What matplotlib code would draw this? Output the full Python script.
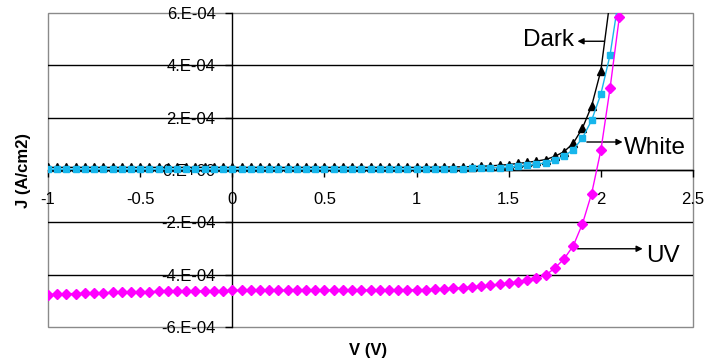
import numpy as np
import matplotlib
matplotlib.use("Agg")
import matplotlib.pyplot as plt

plt.rcParams['font.family'] = ['Liberation Sans', 'DejaVu Sans']

# Current densities are listed in units of 1e-4 A/cm2
SCALE = 1e-4

# Voltage sweep: -1.00 V to 2.15 V in 0.05 V steps
voltage = np.round(np.arange(64) * 0.05 - 1.0, 2)

j_dark = [
    0.10, 0.10, 0.10, 0.10, 0.10, 0.10, 0.10, 0.10, 0.10, 0.10,
    0.10, 0.10, 0.10, 0.10, 0.10, 0.10, 0.10, 0.10, 0.10, 0.10,
    0.10, 0.10, 0.10, 0.10, 0.10, 0.10, 0.10, 0.10, 0.10, 0.10,
    0.10, 0.10, 0.10, 0.10, 0.10, 0.10, 0.10, 0.10, 0.10, 0.10,
    0.10, 0.10, 0.11, 0.11, 0.12, 0.12, 0.13, 0.14, 0.16, 0.18,
    0.21, 0.25, 0.29, 0.34, 0.40, 0.52, 0.70, 1.02, 1.60, 2.45,
    3.80, 6.50,
]

j_white = [
    0.03, 0.03, 0.03, 0.03, 0.03, 0.03, 0.03, 0.03, 0.03, 0.03,
    0.03, 0.03, 0.03, 0.03, 0.03, 0.03, 0.03, 0.03, 0.03, 0.03,
    0.03, 0.03, 0.03, 0.03, 0.03, 0.03, 0.03, 0.03, 0.03, 0.03,
    0.03, 0.03, 0.03, 0.03, 0.03, 0.03, 0.03, 0.03, 0.03, 0.03,
    0.03, 0.03, 0.04, 0.04, 0.05, 0.05, 0.06, 0.07, 0.08, 0.09,
    0.11, 0.14, 0.18, 0.22, 0.28, 0.38, 0.52, 0.78, 1.22, 1.90,
    2.90, 4.40, 6.70,
]

j_uv = [
    -4.76, -4.75, -4.73, -4.72, -4.71, -4.70, -4.69, -4.68, -4.67, -4.66,
    -4.65, -4.65, -4.64, -4.64, -4.63, -4.63, -4.62, -4.62, -4.61, -4.61,
    -4.60, -4.60, -4.60, -4.60, -4.60, -4.60, -4.60, -4.60, -4.60, -4.60,
    -4.60, -4.59, -4.59, -4.59, -4.59, -4.59, -4.59, -4.58, -4.58, -4.58,
    -4.58, -4.57, -4.56, -4.54, -4.52, -4.50, -4.47, -4.44, -4.41, -4.37,
    -4.33, -4.27, -4.20, -4.12, -4.02, -3.75, -3.40, -2.90, -2.06, -0.90,
    0.75, 3.13, 5.83, 7.00,
]

y_ticks = [-6e-4, -4e-4, -2e-4, 0.0, 2e-4, 4e-4, 6e-4]
y_tick_labels = ["-6.E-04", "-4.E-04", "-2.E-04", "0.E+00", "2.E-04", "4.E-04", "6.E-04"]
x_ticks = [-1, -0.5, 0, 0.5, 1, 1.5, 2, 2.5]
x_tick_labels = ["-1", "-0.5", "0", "0.5", "1", "1.5", "2", "2.5"]

CYAN = '#17B6EC'
MAGENTA = '#FF00FF'

fig = plt.figure(figsize=(7.07, 3.64), dpi=100)
ax = fig.add_axes([48 / 707, 1 - 327 / 364, 645 / 707, 314 / 364])

ax.set_xlim(-1, 2.5)
ax.set_ylim(-6e-4, 6e-4)

# Grey plot-area frame
ax.patch.set_edgecolor('#8a8a8a')
ax.patch.set_linewidth(1.0)
ax.spines['top'].set_visible(False)
ax.spines['right'].set_visible(False)

# Axes crossing at the origin
for side in ('left', 'bottom'):
    ax.spines[side].set_position(('data', 0))
    ax.spines[side].set_color('black')
    ax.spines[side].set_linewidth(1.0)
    ax.spines[side].set_zorder(2.2)

# Horizontal gridlines between the frame edges
for yv in y_ticks[1:-1]:
    ax.axhline(yv, color='black', lw=1.0, zorder=1)

ax.set_xticks(x_ticks)
ax.set_xticklabels(x_tick_labels)
ax.set_yticks(y_ticks)
ax.set_yticklabels(y_tick_labels)
ax.tick_params(axis='x', direction='out', length=5, width=1, pad=11,
               labelsize=12, colors='black')
ax.tick_params(axis='y', direction='out', length=5, width=1, pad=7,
               labelsize=12, colors='black')

ax.plot(voltage[:len(j_dark)], np.array(j_dark) * SCALE, color='black', lw=1.0,
        marker='^', ms=6, mec='black', mfc='black', zorder=3)
ax.plot(voltage[:len(j_white)], np.array(j_white) * SCALE, color=CYAN, lw=1.0,
        marker='s', ms=4.5, mec=CYAN, mfc=CYAN, zorder=3.1)
ax.plot(voltage[:len(j_uv)], np.array(j_uv) * SCALE, color=MAGENTA, lw=1.0,
        marker='D', ms=5, mec=MAGENTA, mfc=MAGENTA, zorder=3.2)

# Curve labels with arrows
arrow_kw = dict(arrowstyle='-|>', color='black', lw=1.0, mutation_scale=9,
                shrinkA=0, shrinkB=0)
ax.annotate('', xy=(1.873, 4.92e-4), xytext=(2.018, 4.92e-4), arrowprops=arrow_kw)
ax.text(1.852, 4.72e-4, 'Dark', ha='right', va='baseline', fontsize=17.5)

ax.annotate('', xy=(2.118, 1.07e-4), xytext=(1.924, 1.07e-4), arrowprops=arrow_kw)
ax.text(2.127, 0.62e-4, 'White', ha='left', va='baseline', fontsize=17.5)

ax.annotate('', xy=(2.227, -3.01e-4), xytext=(1.873, -3.01e-4), arrowprops=arrow_kw)
ax.text(2.248, -3.52e-4, 'UV', ha='left', va='baseline', fontsize=17.5)

ax.set_xlabel('V (V)', fontsize=12, fontweight='bold')
ax.xaxis.set_label_coords(0.496, -0.052)
ax.set_ylabel('J (A/cm2)', fontsize=12, fontweight='bold')
ax.yaxis.set_label_coords(-0.026, 0.5)

fig.savefig('out.png', dpi=100)
